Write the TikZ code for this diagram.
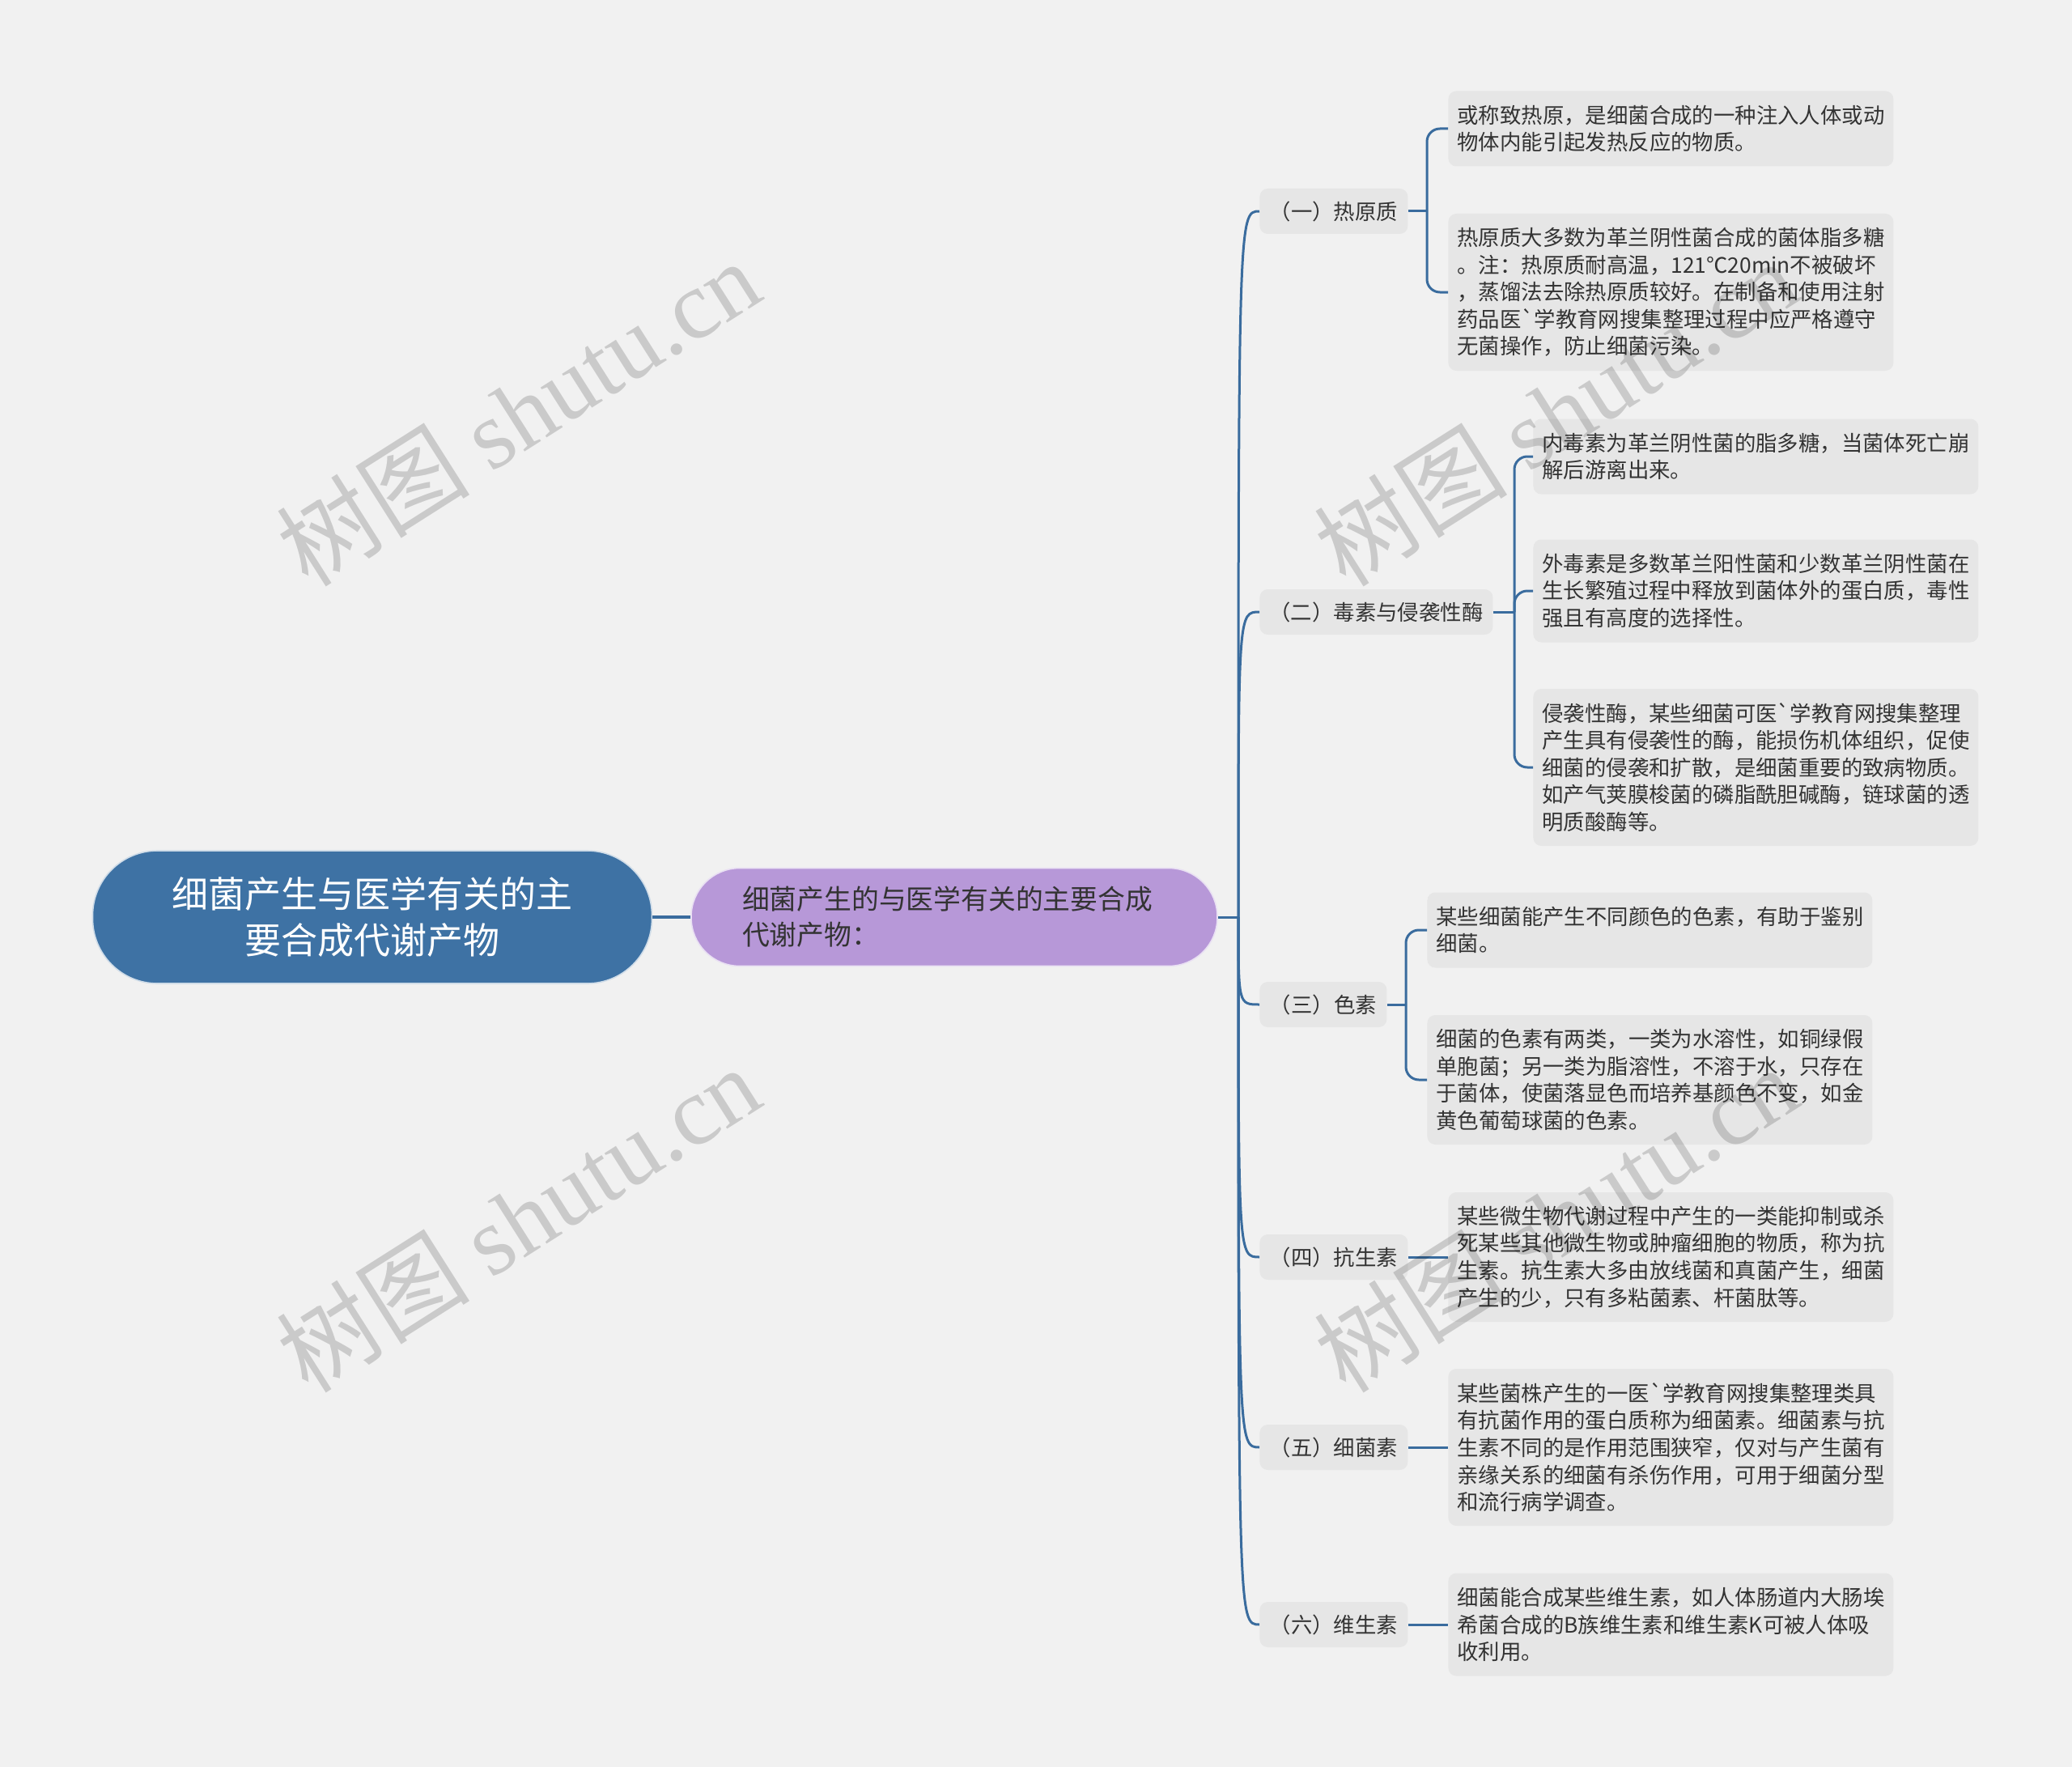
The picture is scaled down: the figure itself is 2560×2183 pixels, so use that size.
\documentclass[tikz,border=0pt]{standalone}
\usepackage{fontspec}
\setmainfont{Noto Sans CJK SC}
\newfontfamily\wmserif{Liberation Serif}
\usetikzlibrary{calc}
\definecolor{bg}{RGB}{241,241,241}
\definecolor{boxgray}{RGB}{230,230,230}
\definecolor{txt}{RGB}{51,51,51}
\definecolor{rootblue}{RGB}{62,114,164}
\definecolor{linkblue}{RGB}{58,108,158}
\definecolor{mainpurple}{RGB}{183,152,216}
\begin{document}
\begin{tikzpicture}[x=0.5pt,y=-0.5pt,
  conn/.style={draw=linkblue, line width=1.5pt},
  leafbox/.style={rectangle, rounded corners=5pt, fill=boxgray, text=txt,
    font=\fontsize{13.2pt}{16.8pt}\selectfont, align=left, text width=264pt,
    inner xsep=5.5pt, inner ysep=0pt, anchor=west},
  catbox/.style={rectangle, rounded corners=5pt, fill=boxgray, text=txt,
    font=\fontsize{13.2pt}{16pt}\selectfont, minimum height=28pt,
    inner xsep=6pt, anchor=west},
  wm/.style={rotate=32.4, text=black, opacity=0.16,
    font=\fontsize{60pt}{64pt}\selectfont}
]
\fill[bg] (0,0) rectangle (2560,2183);
\useasboundingbox (0,0) rectangle (2560,2183);

% root and main
\node[rectangle, rounded corners=40pt, fill=rootblue, draw=white!75!rootblue, line width=0.8pt,
  text=white, font=\fontsize{22.5pt}{28.5pt}\selectfont, align=center,
  text width=300pt, inner xsep=22.75pt, minimum height=82pt] (root) at (460,1133)
  {细菌产生与医学有关的主\\要合成代谢产物};
\node[rectangle, rounded corners=30pt, fill=mainpurple, draw=white!70!mainpurple, line width=0.8pt,
  text=txt, font=\fontsize{16.9pt}{22pt}\selectfont, align=left,
  text width=262pt, inner xsep=31.5pt, minimum height=60.5pt] (main) at (1179,1133)
  {细菌产生的与医学有关的主要合成\\代谢产物：};
\draw[draw=linkblue, line width=2pt] (root.east) -- (main.west);

% categories
\node[catbox, minimum width=91.5pt] (c1) at (1556,261) {（一）热原质};
\node[catbox, minimum width=143.5pt] (c2) at (1556,756) {（二）毒素与侵袭性酶};
\node[catbox, minimum width=78.5pt] (c3) at (1556,1241) {（三）色素};
\node[catbox, minimum width=91.5pt] (c4) at (1556,1553) {（四）抗生素};
\node[catbox, minimum width=91.5pt] (c5) at (1556,1788) {（五）细菌素};
\node[catbox, minimum width=91.5pt] (c6) at (1556,2007) {（六）维生素};

% trunk
\coordinate (trunk) at (1530,1133);
\draw[conn] (main.east) -- (trunk);
\foreach \c in {c1,c2,c3,c4,c5,c6}{
  \draw[conn] (trunk) .. controls (trunk |- \c.west) .. (\c.west);
}

% leaves
\node[leafbox, minimum height=46.5pt] (l1a) at (1789,159)
  {或称致热原，是细菌合成的一种注入人体或动\\物体内能引起发热反应的物质。};
\node[leafbox, minimum height=97pt] (l1b) at (1789,361)
  {热原质大多数为革兰阴性菌合成的菌体脂多糖\\。注：热原质耐高温，121℃20min不被破坏\\，蒸馏法去除热原质较好。在制备和使用注射\\药品医\textasciigrave 学教育网搜集整理过程中应严格遵守\\无菌操作，防止细菌污染。};
\node[leafbox, minimum height=46.5pt] (l2a) at (1894,564)
  {内毒素为革兰阴性菌的脂多糖，当菌体死亡崩\\解后游离出来。};
\node[leafbox, minimum height=63.5pt] (l2b) at (1894,730)
  {外毒素是多数革兰阳性菌和少数革兰阴性菌在\\生长繁殖过程中释放到菌体外的蛋白质，毒性\\强且有高度的选择性。};
\node[leafbox, minimum height=97pt] (l2c) at (1894,948)
  {侵袭性酶，某些细菌可医\textasciigrave 学教育网搜集整理\\产生具有侵袭性的酶，能损伤机体组织，促使\\细菌的侵袭和扩散，是细菌重要的致病物质。\\如产气荚膜梭菌的磷脂酰胆碱酶，链球菌的透\\明质酸酶等。};
\node[leafbox, minimum height=46.5pt] (l3a) at (1763,1149)
  {某些细菌能产生不同颜色的色素，有助于鉴别\\细菌。};
\node[leafbox, minimum height=80pt] (l3b) at (1763,1334)
  {细菌的色素有两类，一类为水溶性，如铜绿假\\单胞菌；另一类为脂溶性，不溶于水，只存在\\于菌体，使菌落显色而培养基颜色不变，如金\\黄色葡萄球菌的色素。};
\node[leafbox, minimum height=80pt] (l4) at (1789,1553)
  {某些微生物代谢过程中产生的一类能抑制或杀\\死某些其他微生物或肿瘤细胞的物质，称为抗\\生素。抗生素大多由放线菌和真菌产生，细菌\\产生的少，只有多粘菌素、杆菌肽等。};
\node[leafbox, minimum height=97pt] (l5) at (1789,1788)
  {某些菌株产生的一医\textasciigrave 学教育网搜集整理类具\\有抗菌作用的蛋白质称为细菌素。细菌素与抗\\生素不同的是作用范围狭窄，仅对与产生菌有\\亲缘关系的细菌有杀伤作用，可用于细菌分型\\和流行病学调查。};
\node[leafbox, minimum height=63.5pt] (l6) at (1789,2007)
  {细菌能合成某些维生素，如人体肠道内大肠埃\\希菌合成的B族维生素和维生素K可被人体吸\\收利用。};

% brackets
\coordinate (b1) at (1763,261);
\coordinate (b2) at (1871,756);
\coordinate (b3) at (1737,1241);
\draw[conn] (c1.east) -- (b1);
\draw[conn] (c2.east) -- (b2);
\draw[conn] (c3.east) -- (b3);
\foreach \b/\l in {b1/l1a,b1/l1b,b2/l2a,b2/l2b,b2/l2c,b3/l3a,b3/l3b}{
  \draw[conn, rounded corners=8pt] (\b) |- (\l.west);
}
\draw[conn] (c4.east) -- (l4.west);
\draw[conn] (c5.east) -- (l5.west);
\draw[conn] (c6.east) -- (l6.west);

% watermarks
\node[wm] (wm1) at (640,509) {树图 {\wmserif shutu.cn}};
\node[wm] (wm2) at (640,1505) {树图 {\wmserif shutu.cn}};
\node[wm] (wm3) at (1922,509) {树图 {\wmserif shutu.cn}};
\node[wm] (wm4) at (1922,1505) {树图 {\wmserif shutu.cn}};
\end{tikzpicture}
\end{document}
